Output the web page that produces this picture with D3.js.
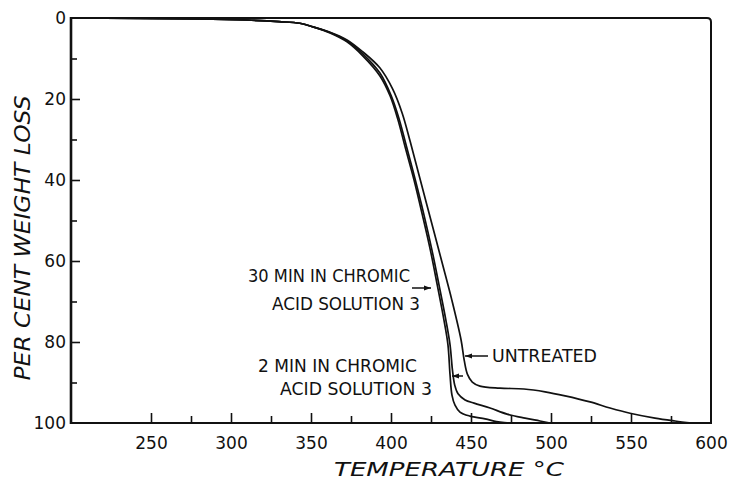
<!DOCTYPE html>
<html>
<head>
<meta charset="utf-8">
<script src="https://cdn.jsdelivr.net/npm/d3@7"></script>
<style>
  html, body { margin: 0; padding: 0; background: #fff; }
  svg { display: block; }
  text { font-family: "DejaVu Sans", sans-serif; fill: #111; }
</style>
</head>
<body>
<svg id="chart" width="735" height="485"></svg>
<script>
// ---- data (temperature °C, per cent weight loss) ----
const untreatedT    = [200, 280, 310, 330, 343, 351.3, 361.9, 372.5, 382.5, 393, 401, 407, 412, 418, 425, 432, 438, 443.8, 445.8, 447.8, 450.8, 455.6, 468.1, 483.1, 496.3, 508.8, 524.4, 536.9, 549.4, 565, 577.5, 588];
const untreatedLoss = [0, 0.2, 0.5, 0.9, 1.3, 2.2, 3.5, 5.4, 8.4, 12.3, 17.5, 23.5, 30.5, 39.5, 50.0, 60.5, 69.6, 79.5, 84.6, 88.0, 89.9, 90.9, 91.4, 91.6, 92.3, 93.3, 94.8, 96.3, 97.6, 98.8, 99.5, 100];

const min2T    = [200, 280, 310, 330, 343, 351.3, 361.9, 372.5, 382.5, 393.1, 400.2, 405.1, 409.6, 415.2, 420.6, 425.6, 430, 434.3, 436.9, 438.4, 439.8, 441.9, 446.3, 451.9, 461.9, 472.5, 483.8, 493.1, 499.4];
const min2Loss = [0, 0.2, 0.5, 0.9, 1.3, 2.2, 3.6, 5.7, 8.9, 13.6, 19.3, 25.0, 31.6, 40.0, 48.6, 57.3, 65.9, 74.6, 80.7, 86.9, 90.6, 92.8, 94.3, 95.1, 96.3, 97.8, 98.8, 99.5, 100];

const min30T    = [200, 280, 310, 330, 343, 351.3, 361.9, 372.5, 382.5, 393.1, 399.4, 404.4, 408.8, 414.4, 419.6, 424.6, 428.9, 433.1, 435.6, 436.9, 438.1, 440, 443.1, 449.4, 458.8, 468.1, 474.4];
const min30Loss = [0, 0.2, 0.5, 0.9, 1.3, 2.2, 3.7, 5.9, 9.4, 14.3, 19.2, 25.2, 31.8, 40.0, 48.6, 57.3, 65.9, 74.6, 80.7, 88.1, 93.1, 95.6, 97.3, 98.3, 99.0, 99.8, 100];

const xMajorTicks = [250, 300, 350, 400, 450, 500, 550];
const xMinorTicks = [275, 325, 375, 425, 475, 525, 575];
const xTickLabels = [250, 300, 350, 400, 450, 500, 550, 600];
const yMajorTicks = [20, 40, 60, 80];
const yMinorTicks = [10, 30, 50, 70, 90];
const yTickLabels = [0, 20, 40, 60, 80, 100];

const annotations = [
  { lines: ["30 MIN IN CHROMIC", "ACID SOLUTION 3"] },
  { lines: ["2 MIN IN CHROMIC", "ACID SOLUTION 3"] },
  { lines: ["UNTREATED"] }
];

// ---- layout ----
const svg = d3.select("#chart");
const L = 71, R = 711, T = 18, B = 423;
const x = d3.scaleLinear().domain([200, 600]).range([L, R]);
const y = d3.scaleLinear().domain([0, 100]).range([T, B]);

const ink = "#111";

// curves
const line = d3.line().x(d => x(d[0])).y(d => y(d[1])).curve(d3.curveCatmullRom.alpha(0.5));
const series = [
  d3.zip(untreatedT, untreatedLoss),
  d3.zip(min2T, min2Loss),
  d3.zip(min30T, min30Loss)
];
svg.append("g").selectAll("path").data(series).join("path")
  .attr("d", line)
  .attr("fill", "none")
  .attr("stroke", ink)
  .attr("stroke-width", 1.7)
  .attr("stroke-linejoin", "round");

// frame
svg.append("path")
  .attr("d", `M${L},${T} H${R - 4} Q${R},${T} ${R},${T + 4} V${B} H${L} Z`)
  .attr("fill", "none").attr("stroke", ink).attr("stroke-width", 2);
svg.append("line").attr("x1", L).attr("x2", L).attr("y1", T - 1).attr("y2", B + 1)
  .attr("stroke", ink).attr("stroke-width", 2.6);

// axes
const yAxisMajor = d3.axisLeft(y).tickValues(yMajorTicks).tickSize(-9).tickFormat("");
const yAxisMinor = d3.axisLeft(y).tickValues(yMinorTicks).tickSize(-6).tickFormat("");
const yAxisLabels = d3.axisLeft(y).tickValues(yTickLabels).tickSize(0).tickPadding(5);
const xAxisMajor = d3.axisBottom(x).tickValues(xMajorTicks).tickSize(-10).tickFormat("");
const xAxisMinor = d3.axisBottom(x).tickValues(xMinorTicks).tickSize(-7).tickFormat("");
const xAxisLabels = d3.axisBottom(x).tickValues(xTickLabels).tickSize(0).tickPadding(14);

function styleAxis(g) {
  g.select(".domain").remove();
  g.selectAll(".tick line").attr("stroke", ink).attr("stroke-width", 1.6);
  g.selectAll(".tick text").attr("font-family", "DejaVu Sans, sans-serif")
    .attr("font-size", 17).attr("fill", ink);
}
svg.append("g").attr("transform", `translate(${L},0)`).call(yAxisMajor).call(styleAxis);
svg.append("g").attr("transform", `translate(${L},0)`).call(yAxisMinor).call(styleAxis);
svg.append("g").attr("transform", `translate(${L},0)`).call(yAxisLabels).call(styleAxis);
svg.append("g").attr("transform", `translate(0,${B})`).call(xAxisMajor).call(styleAxis);
svg.append("g").attr("transform", `translate(0,${B})`).call(xAxisMinor).call(styleAxis);
svg.append("g").attr("transform", `translate(0,${B})`).call(xAxisLabels).call(styleAxis);

// axis titles
svg.append("text")
  .attr("x", 449).attr("y", 476)
  .attr("text-anchor", "middle")
  .attr("font-size", 20).attr("font-style", "italic")
  .attr("textLength", 230).attr("lengthAdjust", "spacingAndGlyphs")
  .text("TEMPERATURE °C");
svg.append("text")
  .attr("transform", "translate(30,238) rotate(-90)")
  .attr("text-anchor", "middle")
  .attr("font-size", 21).attr("font-style", "italic")
  .attr("textLength", 285).attr("lengthAdjust", "spacingAndGlyphs")
  .text("PER CENT WEIGHT LOSS");

// annotations
const annPos = [
  [{ x: 248, y: 282, w: 162 }, { x: 272, y: 310, w: 148 }],
  [{ x: 258, y: 372, w: 159 }, { x: 280, y: 395, w: 152 }],
  [{ x: 492, y: 362, w: 105 }]
];
annotations.forEach((a, i) => {
  a.lines.forEach((t, j) => {
    const p = annPos[i][j];
    svg.append("text")
      .attr("x", p.x).attr("y", p.y)
      .attr("font-size", 17)
      .attr("textLength", p.w).attr("lengthAdjust", "spacingAndGlyphs")
      .text(t);
  });
});

// arrows
function arrow(x1, y1, x2, y2) {
  svg.append("line").attr("x1", x1).attr("y1", y1).attr("x2", x2).attr("y2", y2)
    .attr("stroke", ink).attr("stroke-width", 1.5);
  const dir = Math.sign(x2 - x1);
  svg.append("path")
    .attr("d", `M${x2},${y2} L${x2 - dir * 7},${y2 - 2.5} L${x2 - dir * 7},${y2 + 2.5} Z`)
    .attr("fill", ink);
}
arrow(412, 288, 431, 288);
arrow(463, 376, 452, 376);
arrow(488, 356, 465, 356);
</script>
</body>
</html>
